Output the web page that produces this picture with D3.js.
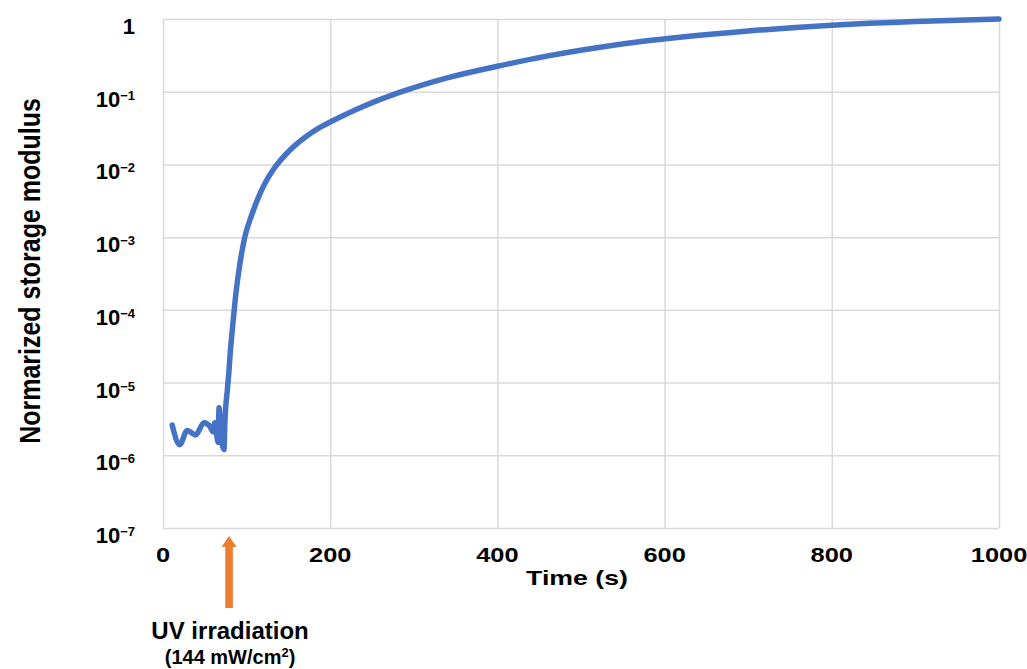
<!DOCTYPE html>
<html>
<head>
  <meta charset="utf-8">
  <title>Storage modulus</title>
  <style>
    body { margin: 0; background: #fff; }
    text { font-family: "Liberation Sans", Arial, Helvetica, sans-serif; font-weight: bold; fill: #000; }
  </style>
</head>
<body>
  <div id="chart"></div>
  <script src="https://d3js.org/d3.v7.min.js"></script>
  <script>
    // data
    let times = [11, 20, 29, 39, 49, 56, 60, 62, 66, 67, 69, 73, 74, 77, 79, 80, 84, 87, 92, 98,
      106, 114, 122, 132, 140, 152, 164, 178, 191, 200, 240, 283, 340, 400, 459,
      519, 579, 618, 700, 800, 900, 1000];
    let modulus = [2.6e-6, 1.4e-6, 2.2e-6, 1.9e-6, 2.8e-6, 2.5e-6, 2.1e-6, 2.8e-6, 1.5e-6, 4.5e-6,
      2.2e-6, 1.2e-6, 2.8e-6, 8e-6, 1.5e-5, 2.2e-5, 7.2e-5, 1.6e-4, 4.3e-4, 1.02e-3,
      2.0e-3, 3.5e-3, 5.5e-3, 8.5e-3, 1.12e-2, 1.58e-2, 2.09e-2, 2.75e-2, 3.39e-2, 3.83e-2,
      6.31e-2, 9.77e-2, 0.155, 0.224, 0.309, 0.403, 0.501, 0.562, 0.684,
      0.822, 0.927, 1.0];
    let xTicks = [0, 200, 400, 600, 800, 1000];
    let yTicks = [1, 1e-1, 1e-2, 1e-3, 1e-4, 1e-5, 1e-6, 1e-7];
    let yTickExp = [0, -1, -2, -3, -4, -5, -6, -7];
    let uvTime = 79;

    let svgWidth = 1027;
    let svgHeight = 669;
    let margin = { top: 19, right: 28, bottom: 141, left: 163 };
    let width = svgWidth - margin.left - margin.right;
    let height = svgHeight - margin.top - margin.bottom;
    let stretch = 1.27; // x labels in the picture are wider than tall

    function translate(x, y) {
      return 'translate(' + x + ',' + y + ')';
    }

    let svg = d3.select('#chart').append('svg')
      .attr('width', svgWidth)
      .attr('height', svgHeight);

    let x = d3.scaleLinear().domain([0, 1000]).range([margin.left, margin.left + width]);
    let y = d3.scaleLog().domain([1e-7, 1]).range([margin.top + height, margin.top]);

    // grid
    svg.append('g')
      .attr('transform', translate(0, margin.top + height))
      .call(d3.axisBottom(x).tickValues(xTicks).tickSize(-height).tickFormat(''))
      .call(g => g.select('.domain').remove())
      .selectAll('line').attr('stroke', '#d9d9d9').attr('stroke-width', 1.5);

    svg.append('g')
      .attr('transform', translate(margin.left, 0))
      .call(d3.axisLeft(y).tickValues(yTicks).tickSize(-width).tickFormat(''))
      .call(g => g.select('.domain').remove())
      .selectAll('line').attr('stroke', '#d9d9d9').attr('stroke-width', 1.5);

    // y tick labels
    let yl = svg.selectAll('.ylab').data(yTicks).enter().append('text')
      .attr('class', 'ylab')
      .attr('x', 135)
      .attr('y', d => y(d) + 15)
      .attr('text-anchor', 'end')
      .style('font-size', '22px');
    yl.each(function (d, i) {
      let t = d3.select(this);
      if (yTickExp[i] === 0) {
        t.text('1');
      } else {
        t.append('tspan').text('10');
        t.append('tspan').attr('dy', -7).style('font-size', '13px')
          .text('\u2212' + Math.abs(yTickExp[i]));
      }
    });

    // x tick labels
    svg.selectAll('.xlab').data(xTicks).enter().append('g')
      .attr('class', 'xlab')
      .attr('transform', d => translate(x(d), 562) + ' scale(' + stretch + ',1)')
      .append('text')
      .attr('text-anchor', 'middle')
      .style('font-size', '20px')
      .text(d => d);

    // axis titles
    svg.append('g')
      .attr('transform', translate(x(500) - 4, 585) + ' scale(' + stretch + ',1)')
      .append('text')
      .attr('text-anchor', 'middle')
      .style('font-size', '21px')
      .text('Time (s)');

    svg.append('g')
      .attr('transform', translate(40, 271) + ' scale(1.21,1) rotate(-90)')
      .append('text')
      .attr('text-anchor', 'middle')
      .style('font-size', '25px')
      .text('Normarized storage modulus');

    // curve
    let pts = times.map((t, i) => [t, modulus[i]]);
    let line = d3.line()
      .x(d => x(d[0]))
      .y(d => y(d[1]))
      .curve(d3.curveMonotoneX);

    svg.append('path')
      .datum(pts)
      .attr('d', line)
      .attr('fill', 'none')
      .attr('stroke', '#4472C4')
      .attr('stroke-width', 5.5)
      .attr('stroke-linejoin', 'round')
      .attr('stroke-linecap', 'round');

    // UV arrow
    let ax = x(uvTime);
    svg.append('rect')
      .attr('x', ax - 3.8)
      .attr('y', 545)
      .attr('width', 7.6)
      .attr('height', 63)
      .attr('fill', '#ED7D31');
    svg.append('path')
      .attr('d', 'M' + (ax - 7.5) + ',547L' + ax + ',536L' + (ax + 7.5) + ',547Z')
      .attr('fill', '#ED7D31');

    svg.append('text')
      .attr('x', ax + 1)
      .attr('y', 639)
      .attr('text-anchor', 'middle')
      .style('font-size', '24px')
      .text('UV irradiation');

    let sub = svg.append('text')
      .attr('x', ax + 1)
      .attr('y', 664)
      .attr('text-anchor', 'middle')
      .style('font-size', '20px');
    sub.append('tspan').text('(144 mW/cm');
    sub.append('tspan').attr('dy', -7).style('font-size', '13px').text('2');
    sub.append('tspan').attr('dy', 7).text(')');
  </script>
</body>
</html>
